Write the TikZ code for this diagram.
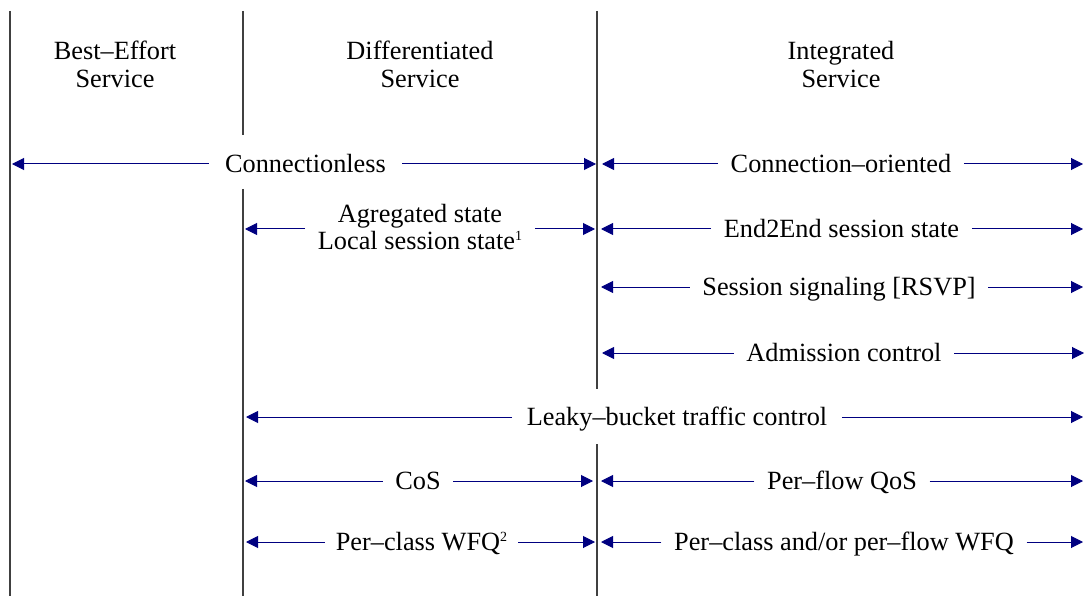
\documentclass[tikz,border=0pt]{standalone}
\usepackage{fontspec}
\setmainfont{Liberation Serif}
\usetikzlibrary{arrows.meta}
\definecolor{arrowblue}{RGB}{0,0,128}
\definecolor{rulegray}{RGB}{64,64,64}
\newcommand{\smallsup}[1]{\raisebox{9.5pt}{\fontsize{14}{14}\selectfont #1}}

\begin{document}
\begin{tikzpicture}[x=1pt,y=-1pt,
  divider/.style={draw=rulegray,line width=1.1pt},
  span/.style={draw=arrowblue,line width=1pt,-{Triangle[length=12pt,width=12pt]}},
  lbl/.style={anchor=base,inner xsep=12.5pt,inner ysep=0pt,font=\fontsize{26.3}{27}\selectfont},
  head/.style={anchor=base,align=center,inner sep=0pt,font=\fontsize{26.3}{28}\selectfont}]
\useasboundingbox (0,0) rectangle (1087,596);

% column dividers
\coordinate (v1t) at (10,11);   \coordinate (v1b) at (10,596);
\coordinate (v2t) at (243,11);  \coordinate (v2a) at (243,135);
\coordinate (v2c) at (243,189); \coordinate (v2b) at (243,596);
\coordinate (v3t) at (597,11);  \coordinate (v3a) at (597,389);
\coordinate (v3c) at (597,444); \coordinate (v3b) at (597,596);
\draw[divider] (v1t) -- (v1b);
\draw[divider] (v2t) -- (v2a);
\draw[divider] (v2c) -- (v2b);
\draw[divider] (v3t) -- (v3a);
\draw[divider] (v3c) -- (v3b);

% column headings (base anchor sits on the last line)
\node[head] (be) at (115,88) {Best–Effort\\Service};
\node[head] (ds) at (420,88) {Differentiated\\Service};
\node[head] (is) at (841,88) {Integrated\\Service};

% connection model
\node[lbl,inner xsep=16pt] (cl) at (305.5,172.7) {Connectionless};
\coordinate (cl-l) at (12,164);  \coordinate (cl-r) at (596,164);
\draw[span] (cl-l -| cl.west) -- (cl-l);
\draw[span] (cl-r -| cl.east) -- (cl-r);

\node[lbl] (co) at (841,172.7) {Connection–oriented};
\coordinate (co-l) at (602,164); \coordinate (co-r) at (1083,164);
\draw[span] (co-l -| co.west) -- (co-l);
\draw[span] (co-r -| co.east) -- (co-r);

% state
\node[lbl,align=center] (ag) at (420,250) {Agregated state\\Local session state\smallsup{1}};
\coordinate (ag-l) at (245,229); \coordinate (ag-r) at (595,229);
\draw[span] (ag-l -| ag.west) -- (ag-l);
\draw[span] (ag-r -| ag.east) -- (ag-r);

\node[lbl] (ee) at (841.5,237.7) {End2End session state};
\coordinate (ee-l) at (601,229); \coordinate (ee-r) at (1083,229);
\draw[span] (ee-l -| ee.west) -- (ee-l);
\draw[span] (ee-r -| ee.east) -- (ee-r);

% signaling
\node[lbl] (sg) at (839,295.7) {Session signaling [RSVP]};
\coordinate (sg-l) at (601,287); \coordinate (sg-r) at (1083,287);
\draw[span] (sg-l -| sg.west) -- (sg-l);
\draw[span] (sg-r -| sg.east) -- (sg-r);

% admission
\node[lbl] (ad) at (844,361.7) {Admission control};
\coordinate (ad-l) at (602,353); \coordinate (ad-r) at (1084,353);
\draw[span] (ad-l -| ad.west) -- (ad-l);
\draw[span] (ad-r -| ad.east) -- (ad-r);

% traffic control
\node[lbl,inner xsep=14.5pt] (lb) at (677,425.7) {Leaky–bucket traffic control};
\coordinate (lb-l) at (246,417); \coordinate (lb-r) at (1083,417);
\draw[span] (lb-l -| lb.west) -- (lb-l);
\draw[span] (lb-r -| lb.east) -- (lb-r);

% service classes
\node[lbl] (cs) at (418,489.7) {CoS};
\coordinate (cs-l) at (245,481); \coordinate (cs-r) at (593,481);
\draw[span] (cs-l -| cs.west) -- (cs-l);
\draw[span] (cs-r -| cs.east) -- (cs-r);

\node[lbl] (pq) at (842,489.7) {Per–flow QoS};
\coordinate (pq-l) at (601,481); \coordinate (pq-r) at (1083,481);
\draw[span] (pq-l -| pq.west) -- (pq-l);
\draw[span] (pq-r -| pq.east) -- (pq-r);

% scheduling
\node[lbl,inner xsep=11pt] (wc) at (421.5,550.7) {Per–class WFQ\smallsup{2}};
\coordinate (wc-l) at (246,542); \coordinate (wc-r) at (595,542);
\draw[span] (wc-l -| wc.west) -- (wc-l);
\draw[span] (wc-r -| wc.east) -- (wc-r);

\node[lbl] (wf) at (844,550.7) {Per–class and/or per–flow WFQ};
\coordinate (wf-l) at (601,542); \coordinate (wf-r) at (1083,542);
\draw[span] (wf-l -| wf.west) -- (wf-l);
\draw[span] (wf-r -| wf.east) -- (wf-r);
\end{tikzpicture}
\end{document}
